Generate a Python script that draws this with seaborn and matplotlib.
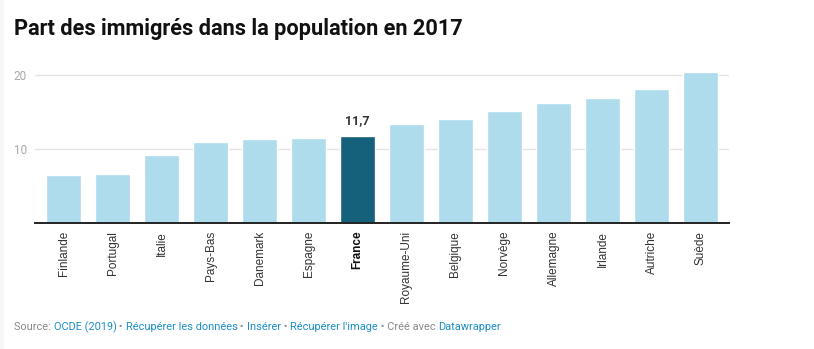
import matplotlib
matplotlib.use("Agg")
import matplotlib.pyplot as plt
import seaborn as sns
import pandas as pd
from matplotlib.patches import Rectangle

countries = ["Finlande", "Portugal", "Italie", "Pays-Bas", "Danemark", "Espagne", "France",
             "Royaume-Uni", "Belgique", "Norvège", "Allemagne", "Irlande", "Autriche", "Suède"]
values = [6.5, 6.6, 9.2, 10.9, 11.3, 11.5, 11.7, 13.4, 14.0, 15.2, 16.2, 16.9, 18.2, 20.5]
highlight = "France"
yticks = [10, 20]

light = "#aedcec"
dark = "#15607a"

sns.set_theme(style="white")
plt.rcParams['font.family'] = ['Roboto', 'DejaVu Sans']

df = pd.DataFrame({"pays": countries, "part": values})
palette = {c: (dark if c == highlight else light) for c in countries}

fig = plt.figure(figsize=(8.14, 3.49), dpi=100)
fig.patch.set_facecolor("white")
fig.patches.append(Rectangle((0, 0), 4 / 814, 1, transform=fig.transFigure,
                             facecolor="#f7f7f7", edgecolor="none", zorder=0))

W, H = 814, 349
left, right = 35, 729
base_y = 222.5
ymax = 21
ppu = 7.36
top_y = base_y - ymax * ppu
ax = fig.add_axes([left / W, (H - base_y) / H, (right - left) / W, (base_y - top_y) / H])

sns.barplot(data=df, x="pays", y="part", hue="pays", palette=palette, legend=False,
            width=0.714, saturation=1, ax=ax, zorder=2)

ax.set_xlim(-0.582, len(countries) - 1 + 0.582)
ax.set_ylim(0, ymax)
ax.set_yticks(yticks)
ax.set_yticklabels([str(t) for t in yticks], fontsize=8.5, color="#a8a8a8")
ax.tick_params(axis="y", length=0, pad=6)
for t in yticks:
    ax.axhline(t, color="#e4e4e4", lw=1, zorder=1)

for s in ["top", "right", "left"]:
    ax.spines[s].set_visible(False)
ax.spines["bottom"].set_color("#222222")
ax.spines["bottom"].set_linewidth(1.4)
ax.spines["bottom"].set_zorder(3)

ax.set_xticks(range(len(countries)))
ax.set_xticklabels(countries, rotation=90, fontsize=8.5, color="#333333",
                   family=["Liberation Sans", "DejaVu Sans"], va="top")
ax.tick_params(axis="x", length=0, pad=6)
for lbl in ax.get_xticklabels():
    if lbl.get_text() == highlight:
        lbl.set_fontweight("bold")
        lbl.set_color("#111111")
ax.set_xlabel("")
ax.set_ylabel("")

hi = countries.index(highlight)
ax.annotate(f"{values[hi]:.1f}".replace(".", ","), xy=(hi, values[hi]),
            xytext=(0, 7), textcoords="offset points", ha="center", va="bottom",
            fontsize=9, fontweight="bold", color="#333333")

fig.text(14 / W, 1 - 29 / H, "Part des immigrés dans la population en 2017",
         fontsize=15.7, fontweight="bold", color="#111111", va="center", ha="left")

# footer
parts = [("Source: ", "#8a8a8a"), ("OCDE (2019)", "#1d8fc9"), (" • ", "#8a8a8a"),
         ("Récupérer les données", "#1d8fc9"), (" • ", "#8a8a8a"), ("Insérer", "#1d8fc9"),
         (" • ", "#8a8a8a"), ("Récupérer l'image", "#1d8fc9"), (" • Créé avec ", "#8a8a8a"),
         ("Datawrapper", "#1d8fc9")]
fig.canvas.draw()
r = fig.canvas.get_renderer()
x = 14 / W
for txt, col in parts:
    t = fig.text(x, 1 - 327.5 / H, txt, fontsize=7.9, color=col, va="center", ha="left")
    bb = t.get_window_extent(renderer=r)
    x += bb.width / W

fig.savefig("out.png", dpi=100, facecolor="white")
